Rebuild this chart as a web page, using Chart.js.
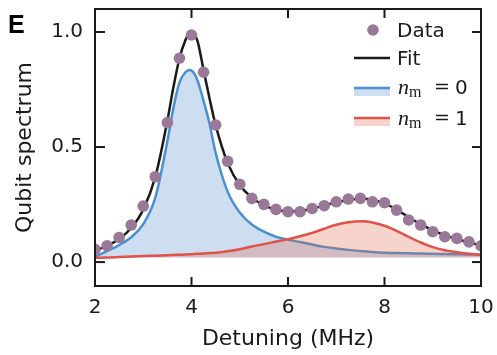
<!DOCTYPE html>
<html>
<head>
<meta charset="utf-8">
<script src="https://cdn.jsdelivr.net/npm/chart.js@4"></script>
<style>
html,body{margin:0;padding:0;background:#fff;}
#wrap{width:497px;height:355px;}
</style>
</head>
<body>
<div id="wrap"><canvas id="c" width="497" height="355"></canvas></div>
<script>
// ---- data ----
const detuning = [2.0,2.25,2.5,2.75,3.0,3.25,3.5,3.75,4.0,4.25,4.5,4.75,5.0,5.25,5.5,5.75,6.0,6.25,6.5,6.75,7.0,7.25,7.5,7.75,8.0,8.25,8.5,8.75,9.0,9.25,9.5,9.75,10.0];
const spectrumData = [0.055,0.071,0.107,0.161,0.243,0.371,0.606,0.886,0.987,0.825,0.596,0.438,0.338,0.277,0.251,0.229,0.219,0.219,0.233,0.245,0.262,0.274,0.277,0.262,0.258,0.226,0.183,0.161,0.132,0.110,0.103,0.088,0.071];

const curveX = [2.0,2.25,2.5,2.75,3.0,3.25,3.5,3.625,3.75,3.875,3.95,4.0,4.05,4.125,4.25,4.375,4.5,4.75,5.0,5.25,5.5,5.75,6.0,6.25,6.5,6.75,7.0,7.25,7.55,7.75,8.0,8.25,8.5,8.75,9.0,9.25,9.5,9.75,10.0];
const fitY = [0.05,0.07,0.10,0.148,0.228,0.37,0.615,0.76,0.885,0.965,0.995,1.0,0.993,0.96,0.835,0.71,0.595,0.43,0.335,0.28,0.247,0.228,0.22,0.222,0.232,0.246,0.26,0.27,0.275,0.27,0.255,0.228,0.195,0.165,0.138,0.117,0.10,0.085,0.073];
const n0Y = [0.023,0.048,0.074,0.108,0.165,0.28,0.525,0.67,0.78,0.825,0.835,0.832,0.822,0.79,0.70,0.60,0.475,0.305,0.215,0.163,0.132,0.11,0.097,0.087,0.076,0.066,0.059,0.053,0.047,0.044,0.041,0.039,0.038,0.037,0.036,0.035,0.034,0.033,0.032];
const n1Y = [0.019,0.02,0.022,0.024,0.026,0.028,0.03,0.031,0.032,0.033,0.034,0.034,0.035,0.036,0.037,0.039,0.041,0.047,0.056,0.068,0.078,0.089,0.099,0.112,0.127,0.145,0.162,0.173,0.177,0.172,0.158,0.136,0.11,0.085,0.065,0.051,0.043,0.036,0.031];

const xTicks = [2,4,6,8,10];
const yTicks = [0.0,0.5,1.0];

const pts = (xs, ys) => xs.map((x,i)=>({x:x, y:ys[i]}));

const COL_DATA = '#9a7897';
const COL_BLUE = '#4a90d0';
const COL_RED = '#e0524a';
const FILL_BLUE = 'rgba(80,135,205,0.28)';
const FILL_RED = 'rgba(228,100,70,0.28)';
const INK = '#1a1a1a';

Chart.defaults.font.family = 'DejaVu Sans';
Chart.defaults.color = INK;

const decor = {
  id: 'decor',
  afterDraw(chart){
    const {ctx, chartArea:a, scales:{x, y}} = chart;
    ctx.save();
    ctx.strokeStyle = INK;
    ctx.lineWidth = 2;
    ctx.strokeRect(a.left, a.top, a.right - a.left, a.bottom - a.top);
    const seg = (x1,y1,x2,y2)=>{ctx.beginPath();ctx.moveTo(x1,y1);ctx.lineTo(x2,y2);ctx.stroke();};
    xTicks.forEach(v=>{
      const px = x.getPixelForValue(v);
      seg(px, a.bottom, px, a.bottom - 9);
      seg(px, a.top, px, a.top + 9);
    });
    yTicks.forEach(v=>{
      const py = y.getPixelForValue(v);
      seg(a.left, py, a.left + 10, py);
      seg(a.right, py, a.right - 9, py);
    });

    // legend
    ctx.fillStyle = COL_DATA;
    ctx.beginPath(); ctx.arc(373, 30, 5.8, 0, Math.PI*2); ctx.fill();
    ctx.fillStyle = INK;
    ctx.font = '20px DejaVu Sans';
    ctx.textBaseline = 'alphabetic';
    ctx.textAlign = 'left';
    ctx.fillText('Data', 397, 37);
    ctx.strokeStyle = INK; ctx.lineWidth = 2.5;
    seg(354, 58, 390, 58);
    ctx.fillText('Fit', 397, 65);

    const mathEntry = (yLine, lineCol, fillCol, digit, baseY) => {
      ctx.fillStyle = fillCol;
      ctx.fillRect(354, yLine, 36, 8);
      ctx.strokeStyle = lineCol; ctx.lineWidth = 2.5;
      seg(354, yLine, 390, yLine);
      ctx.fillStyle = INK;
      ctx.font = 'italic 22px "Liberation Serif"';
      ctx.fillText('n', 398, baseY);
      ctx.font = '16px "Liberation Serif"';
      ctx.fillText('m', 409, baseY + 3);
      ctx.font = '19px "DejaVu Serif"';
      ctx.fillText('=', 434, baseY - 1);
      ctx.font = '20px DejaVu Sans';
      ctx.fillText(digit, 455, baseY);
    };
    mathEntry(88, COL_BLUE, FILL_BLUE, '0', 94);
    mathEntry(118, COL_RED, FILL_RED, '1', 125);

    // panel letter
    ctx.fillStyle = '#000';
    ctx.font = 'bold 25px "Liberation Sans"';
    ctx.fillText('E', 8, 33);
    ctx.restore();
  }
};

new Chart(document.getElementById('c'), {
  type: 'line',
  data: {
    datasets: [
      {
        label: 'Data', data: pts(detuning, spectrumData), showLine: false,
        pointRadius: 5.8, pointHoverRadius: 5.8, pointBackgroundColor: COL_DATA,
        pointBorderWidth: 0, borderColor: COL_DATA, order: 0, clip: 0
      },
      {
        label: 'Fit', data: pts(curveX, fitY), borderColor: INK, borderWidth: 2.5,
        pointRadius: 0, cubicInterpolationMode: 'monotone', fill: false, order: 1
      },
      {
        label: 'n_m = 1', data: pts(curveX, n1Y), borderColor: COL_RED, borderWidth: 2.5,
        backgroundColor: FILL_RED, pointRadius: 0, cubicInterpolationMode: 'monotone',
        fill: {value: 0.02}, order: 2
      },
      {
        label: 'n_m = 0', data: pts(curveX, n0Y), borderColor: COL_BLUE, borderWidth: 2.5,
        backgroundColor: FILL_BLUE, pointRadius: 0, cubicInterpolationMode: 'monotone',
        fill: {value: 0.02}, order: 3
      }
    ]
  },
  options: {
    responsive: false,
    animation: false,
    events: [],
    layout: { padding: { top: 9, right: 16, left: 0, bottom: 0 } },
    plugins: { legend: { display: false }, tooltip: { enabled: false } },
    scales: {
      x: {
        type: 'linear', min: 2, max: 10,
        grid: { display: false, drawTicks: false },
        border: { display: false },
        ticks: { font: { size: 20 }, padding: 10, callback: v => String(v), color: INK },
        afterBuildTicks: s => { s.ticks = xTicks.map(v => ({value: v})); },
        afterFit: s => { s.height = 69; s.paddingLeft = 0; s.paddingRight = 0; s.paddingTop = 0; s.paddingBottom = 0; },
        title: { display: true, text: 'Detuning (MHz)', font: { size: 22 }, padding: { top: 0, bottom: 3 }, color: INK }
      },
      y: {
        type: 'linear', min: -0.104, max: 1.10,
        grid: { display: false, drawTicks: false },
        border: { display: false },
        ticks: { font: { size: 20 }, padding: 12, callback: v => Number(v).toFixed(1), color: INK },
        afterBuildTicks: s => { s.ticks = yTicks.map(v => ({value: v})); },
        afterFit: s => { s.width = 95; s.paddingLeft = 0; s.paddingRight = 0; s.paddingTop = 0; s.paddingBottom = 0; },
        title: { display: true, text: 'Qubit spectrum', font: { size: 22 }, padding: { top: 12, bottom: 0 }, color: INK }
      }
    }
  },
  plugins: [decor]
});
</script>
</body>
</html>
